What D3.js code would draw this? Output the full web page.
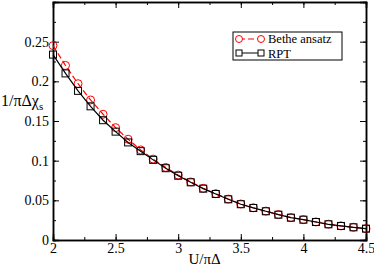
<!DOCTYPE html>
<html>
<head>
<meta charset="utf-8">
<script src="https://cdn.jsdelivr.net/npm/d3@7"></script>
<style>
  body { margin: 0; background: #fff; }
  text { font-family: "Liberation Serif", "Times New Roman", Times, serif; }
</style>
</head>
<body>
<div id="chart"></div>
<script>
const uValues = [2.0, 2.1, 2.2, 2.3, 2.4, 2.5, 2.6, 2.7, 2.8, 2.9, 3.0, 3.1, 3.2,
  3.3, 3.4, 3.5, 3.6, 3.7, 3.8, 3.9, 4.0, 4.1, 4.2, 4.3, 4.4, 4.5]
const betheValues = [0.245, 0.220, 0.197, 0.1765, 0.1585, 0.1416, 0.127, 0.1135, 0.102,
  0.0915, 0.0818, 0.0732, 0.0652, 0.0584, 0.0516, 0.0454, 0.0406, 0.0364, 0.0321,
  0.0283, 0.0257, 0.0228, 0.0199, 0.0178, 0.0160, 0.0143]
const rptValues = [0.2337, 0.210, 0.188, 0.1685, 0.151, 0.1366, 0.123, 0.112, 0.101,
  0.0905, 0.081, 0.0727, 0.0647, 0.058, 0.0513, 0.0451, 0.0404, 0.0362, 0.0319,
  0.0281, 0.0256, 0.0227, 0.0198, 0.0177, 0.0160, 0.0143]
const xTicks = [2, 2.5, 3, 3.5, 4, 4.5]
const yTicks = [0, 0.05, 0.1, 0.15, 0.2, 0.25]

const margin = { top: 2, left: 53, right: 8, bottom: 26 }
const width = 374 - margin.left - margin.right
const height = 266 - margin.top - margin.bottom

const svg = d3
  .select('#chart')
  .append('svg')
  .attr('width', 374)
  .attr('height', 266)
  .append('g')
  .attr('transform', 'translate(' + margin.left + ',' + margin.top + ')')

const xScale = d3.scaleLinear().domain([2, 4.5]).range([0, width])
const yScale = d3.scaleLinear().domain([0, 0.3]).range([height, 0])

// frame with inward ticks on all four sides
const xMinor = d3.range(2, 4.51, 0.25)
const yMinor = d3.range(0, 0.301, 0.025)

svg.append('g')
  .attr('transform', 'translate(0,' + height + ')')
  .call(d3.axisBottom(xScale).tickValues(xMinor).tickSize(-3).tickFormat(''))
svg.append('g')
  .attr('transform', 'translate(0,' + height + ')')
  .call(d3.axisBottom(xScale).tickValues(xTicks).tickSize(-6).tickPadding(3).tickFormat(d3.format('')))
svg.append('g')
  .call(d3.axisTop(xScale).tickValues(xMinor).tickSize(-3).tickFormat(''))
svg.append('g')
  .call(d3.axisTop(xScale).tickValues(xTicks).tickSize(-6).tickFormat(''))
svg.append('g')
  .call(d3.axisLeft(yScale).tickValues(yMinor).tickSize(-3).tickFormat(''))
svg.append('g')
  .call(d3.axisLeft(yScale).tickValues(yTicks).tickSize(-6).tickPadding(4).tickFormat(d3.format('')))
svg.append('g')
  .attr('transform', 'translate(' + width + ',0)')
  .call(d3.axisRight(yScale).tickValues(yMinor).tickSize(-3).tickFormat(''))
svg.append('g')
  .attr('transform', 'translate(' + width + ',0)')
  .call(d3.axisRight(yScale).tickValues(yTicks).tickSize(-6).tickFormat(''))

svg.selectAll('g').attr('font-family', null)
svg.selectAll('.domain').attr('stroke', '#000').attr('stroke-width', 1.5)
svg.selectAll('.tick line').attr('stroke', '#000')
svg.selectAll('.tick text')
  .attr('font-size', 14)
  .attr('fill', '#000')

const bethe = uValues.map((u, i) => ({ u: u, v: betheValues[i] }))
const rpt = uValues.map((u, i) => ({ u: u, v: rptValues[i] }))

const line = d3.line().x(d => xScale(d.u)).y(d => yScale(d.v))

svg.append('path')
  .datum(bethe)
  .attr('fill', 'none')
  .attr('stroke', 'red')
  .attr('stroke-width', 1.2)
  .attr('stroke-dasharray', '6,3')
  .attr('d', line)

svg.selectAll('.bethe-pt')
  .data(bethe)
  .enter()
  .append('circle')
  .attr('class', 'bethe-pt')
  .attr('cx', d => xScale(d.u))
  .attr('cy', d => yScale(d.v))
  .attr('r', 4)
  .attr('fill', 'none')
  .attr('stroke', 'red')
  .attr('stroke-width', 1)

svg.append('path')
  .datum(rpt)
  .attr('fill', 'none')
  .attr('stroke', '#000')
  .attr('stroke-width', 1.2)
  .attr('d', line)

svg.selectAll('.rpt-pt')
  .data(rpt)
  .enter()
  .append('rect')
  .attr('class', 'rpt-pt')
  .attr('x', d => xScale(d.u) - 3.5)
  .attr('y', d => yScale(d.v) - 3.5)
  .attr('width', 7)
  .attr('height', 7)
  .attr('fill', 'none')
  .attr('stroke', '#000')
  .attr('stroke-width', 1)

// legend
const legend = svg.append('g').attr('transform', 'translate(180,30)')
legend.append('rect')
  .attr('width', 109)
  .attr('height', 28)
  .attr('fill', '#fff')
  .attr('stroke', '#000')
  .attr('stroke-width', 1)

legend.append('line')
  .attr('x1', 6).attr('x2', 28).attr('y1', 7).attr('y2', 7)
  .attr('stroke', 'red').attr('stroke-dasharray', '6,3')
legend.selectAll('.lc')
  .data([6, 28])
  .enter()
  .append('circle')
  .attr('cx', d => d).attr('cy', 7).attr('r', 3.5)
  .attr('fill', '#fff').attr('stroke', 'red')
legend.append('text')
  .attr('x', 35).attr('y', 11)
  .attr('font-size', 12.5)
  .text('Bethe ansatz')

legend.append('line')
  .attr('x1', 6).attr('x2', 28).attr('y1', 21).attr('y2', 21)
  .attr('stroke', '#000')
legend.selectAll('.ls')
  .data([6, 28])
  .enter()
  .append('rect')
  .attr('x', d => d - 3).attr('y', 18).attr('width', 6).attr('height', 6)
  .attr('fill', '#fff').attr('stroke', '#000')
legend.append('text')
  .attr('x', 35).attr('y', 25.5)
  .attr('font-size', 12.5)
  .text('RPT')

// axis titles
svg.append('text')
  .attr('x', width / 2 - 5)
  .attr('y', height + 24)
  .attr('text-anchor', 'middle')
  .attr('font-size', 15)
  .text('U/πΔ')

const yTitle = svg.append('text')
  .attr('x', -52)
  .attr('y', 104)
  .attr('font-size', 16)
yTitle.append('tspan').text('1/πΔχ')
yTitle.append('tspan').attr('dy', 4).attr('font-size', 11).text('s')
</script>
</body>
</html>
